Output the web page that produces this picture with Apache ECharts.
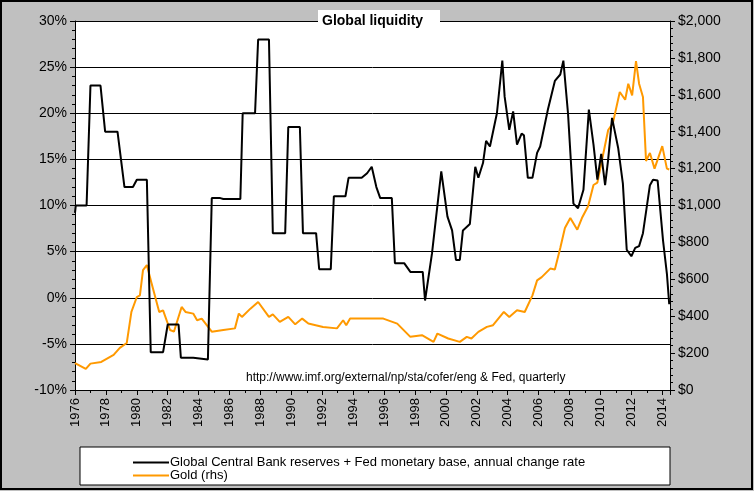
<!DOCTYPE html>
<html>
<head>
<meta charset="utf-8">
<script src="https://cdn.jsdelivr.net/npm/echarts@6/dist/echarts.min.js"></script>
<style>html,body{margin:0;padding:0;background:#c0c0c0}#chart{width:754px;height:491px}</style>
</head>
<body>
<div id="chart"></div>
<script>
// reserves + monetary base, annual change (%), [year, value]
var reserves = [
 [1976.0,9.2],[1976.05,10],[1976.75,10],[1977.0,23],[1977.65,23],[1977.95,18],[1978.75,18],[1979.2,12],
 [1979.75,12],[1980.0,12.8],[1980.65,12.8],[1980.9,-5.9],[1981.7,-5.9],[1982.0,-2.9],[1982.7,-2.9],
 [1982.85,-6.5],[1983.65,-6.5],[1983.75,-6.7],[1984.6,-6.7],[1984.85,10.8],[1985.4,10.8],[1985.6,10.7],
 [1986.7,10.7],[1986.85,20],[1987.65,20],[1987.85,28],[1988.55,28],[1988.8,7],[1989.6,7],[1989.8,18.5],
 [1990.55,18.5],[1990.75,7],[1991.6,7],[1991.8,3.1],[1992.55,3.1],[1992.75,11],[1993.5,11],[1993.7,13],
 [1994.55,13],[1994.9,13.5],[1995.2,14.2],[1995.5,12],[1995.75,10.8],[1996.5,10.8],[1996.7,3.75],
 [1997.3,3.75],[1997.7,2.8],[1998.5,2.8],[1998.65,-0.3],[1999.1,4.8],[1999.7,13.7],[2000.1,8.8],
 [2000.4,7.3],[2000.65,4.1],[2000.9,4.1],[2001.1,7.3],[2001.55,8],[2001.9,14.2],[2002.1,13],[2002.4,14.6],
 [2002.6,17],[2002.85,16.4],[2003.3,20],[2003.65,25.7],[2003.8,21.8],[2004.1,18.2],[2004.35,20.2],
 [2004.6,16.6],[2004.9,17.8],[2005.05,17.6],[2005.3,13],[2005.6,13],[2005.9,15.7],[2006.1,16.4],
 [2006.6,20.4],[2007.05,23.5],[2007.4,24.2],[2007.6,25.7],[2007.9,20],[2008.25,10.2],[2008.55,9.7],
 [2008.9,11.7],[2009.25,20.4],[2009.55,16.6],[2009.8,12.8],[2010.05,15.6],[2010.3,12.2],[2010.5,15],
 [2010.75,19.5],[2011.15,16.2],[2011.45,12.4],[2011.7,5.2],[2012.0,4.5],[2012.25,5.4],[2012.5,5.6],
 [2012.75,7],[2013.2,12.2],[2013.4,12.8],[2013.7,12.7],[2014.05,6.2],[2014.3,2.6],[2014.45,-0.7]
];
// gold price ($, right axis), [year, value]
var gold = [
 [1976.0,146],[1976.7,114],[1977.0,143],[1977.7,152],[1978.5,190],[1978.9,228],[1979.35,255],[1979.65,423],
 [1980.0,504],[1980.2,513],[1980.4,650],[1980.65,677],[1980.95,580],[1981.45,423],[1981.7,432],[1982.15,325],
 [1982.4,316],[1982.9,450],[1983.15,423],[1983.65,414],[1983.9,378],[1984.2,387],[1984.85,316],[1985.6,325],
 [1986.35,334],[1986.6,414],[1986.8,396],[1987.35,441],[1987.85,477],[1988.55,396],[1988.8,410],
 [1989.25,369],[1989.8,396],[1990.25,356],[1990.7,387],[1991.1,360],[1992.05,342],[1992.95,334],
 [1993.35,378],[1993.55,351],[1993.8,387],[1995.95,387],[1996.85,360],[1997.7,288],[1998.45,297],
 [1999.2,261],[1999.45,306],[2000.15,279],[2000.9,261],[2001.35,288],[2001.65,279],[2002.1,315],
 [2002.65,342],[2003.05,351],[2003.75,423],[2004.1,396],[2004.6,432],[2005.1,423],[2005.6,513],
 [2005.9,594],[2006.2,612],[2006.75,658],[2007.05,653],[2007.4,770],[2007.7,878],[2008.05,932],
 [2008.5,869],[2008.8,932],[2009.2,996],[2009.55,1111],[2009.8,1124],[2010.1,1247],[2010.5,1409],
 [2010.8,1445],[2011.25,1615],[2011.6,1573],[2011.8,1660],[2012.05,1597],[2012.3,1783],[2012.5,1660],
 [2012.75,1588],[2012.95,1241],[2013.2,1285],[2013.5,1200],[2014.0,1322],[2014.3,1200],[2014.45,1195]
];
var seriesNames = ['Global Central Bank reserves + Fed monetary base, annual change rate', 'Gold (rhs)'];
var titleText = 'Global liquidity';
var sourceText = 'http://www.imf.org/external/np/sta/cofer/eng & Fed, quarterly';

var chart = echarts.init(document.getElementById('chart'));
var font = 'Arial, "Liberation Sans", sans-serif';
chart.setOption({
  animation: false,
  backgroundColor: '#c0c0c0',
  textStyle: {fontFamily: font},
  graphic: [
    {type: 'rect', shape: {x: 1, y: 1, width: 751, height: 488}, style: {fill: 'none', stroke: '#000', lineWidth: 2}, z: 100},
    {type: 'rect', shape: {x: 75, y: 21, width: 595, height: 369}, style: {fill: '#fff'}, z: -10},
    {type: 'rect', shape: {x: 80, y: 447, width: 590, height: 38}, style: {fill: '#fff', stroke: '#000', lineWidth: 1}, z: -5},
    {type: 'rect', shape: {x: 318, y: 10, width: 122, height: 24}, style: {fill: '#fff'}, z: 50},
    {type: 'text', left: 322, top: 14, style: {text: titleText, font: 'bold 14px ' + font, fill: '#000'}, z: 51},
    {type: 'text', left: 246, top: 372, style: {text: sourceText, font: '12px ' + font, fill: '#000'}, z: 51}
  ],
  legend: {
    orient: 'vertical', left: 128, top: 451, itemGap: 0, itemWidth: 36, itemHeight: 14,
    icon: 'path://M0,6L36,6L36,8L0,8Z',
    textStyle: {fontSize: 13, color: '#000', fontFamily: font, padding: [0, 0, 0, -4]},
    data: seriesNames
  },
  grid: {left: 75, right: 84, top: 21, bottom: 101, show: false},
  xAxis: {
    type: 'value', min: 1976, max: 2014.5, interval: 2,
    axisLine: {onZero: false, lineStyle: {color: '#000'}},
    axisTick: {length: 5, lineStyle: {color: '#000'}},
    minorTick: {show: true, splitNumber: 2, length: 3, lineStyle: {color: '#000'}},
    splitLine: {show: false},
    axisLabel: {rotate: 90, color: '#000', fontSize: 13, fontFamily: font, showMaxLabel: false,
      formatter: function (v) { return String(v); }}
  },
  yAxis: [{
    type: 'value', min: -10, max: 30, interval: 5,
    axisLine: {show: true, lineStyle: {color: '#000'}},
    axisTick: {show: true, inside: false, length: 5, lineStyle: {color: '#000'}},
    minorTick: {show: true, splitNumber: 5, length: 3, lineStyle: {color: '#000'}},
    splitLine: {lineStyle: {color: '#000', width: 1}},
    axisLabel: {color: '#000', fontSize: 14, fontFamily: font, formatter: '{value}%'}
  }, {
    type: 'value', min: 0, max: 2000, interval: 200,
    axisLine: {show: true, lineStyle: {color: '#000'}},
    axisTick: {show: true, length: 5, lineStyle: {color: '#000'}},
    minorTick: {show: true, splitNumber: 5, length: 3, lineStyle: {color: '#000'}},
    splitLine: {show: false},
    axisLabel: {color: '#000', fontSize: 14, fontFamily: font,
      formatter: function (v) { return '$' + v.toLocaleString('en-US'); }}
  }],
  series: [{
    name: seriesNames[0], type: 'line', data: reserves, yAxisIndex: 0,
    showSymbol: false, lineStyle: {color: '#000', width: 2}, itemStyle: {color: '#000'}, z: 3
  }, {
    name: seriesNames[1], type: 'line', data: gold, yAxisIndex: 1,
    showSymbol: false, lineStyle: {color: '#ff9900', width: 2}, itemStyle: {color: '#ff9900'}, z: 2
  }]
});
</script>
</body>
</html>
